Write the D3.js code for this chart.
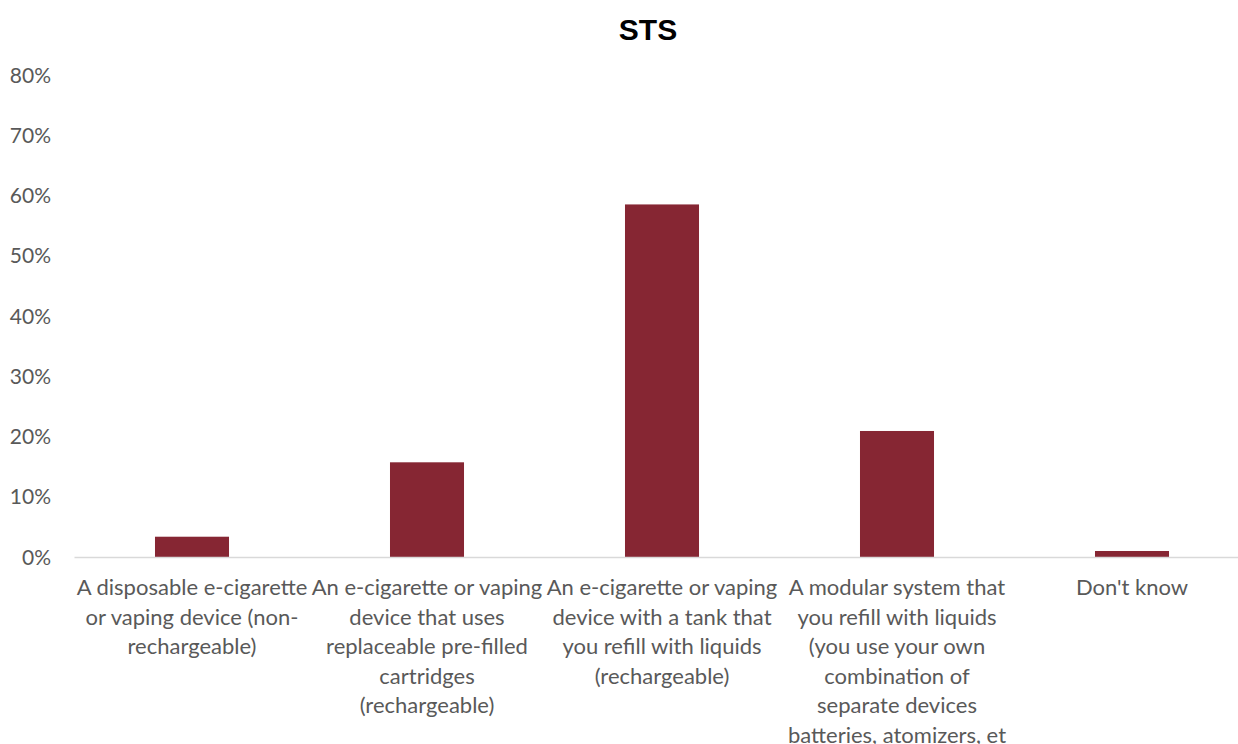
<!DOCTYPE html>
<html>
<head>
<meta charset="utf-8">
<script src="https://cdn.jsdelivr.net/npm/d3@7"></script>
<style>
  body { margin: 0; background: #fff; }
  svg { display: block; }
</style>
</head>
<body>
<div id="chart"></div>
<script>
// data
const categories = ["disposable", "cartridges", "tank", "modular", "dontknow"];
const values = [0.0345, 0.158, 0.586, 0.210, 0.0108];
const labelLines = [
    ["A disposable e-cigarette", "or vaping device (non-", "rechargeable)"],
    ["An e-cigarette or vaping", "device that uses", "replaceable pre-filled", "cartridges", "(rechargeable)"],
    ["An e-cigarette or vaping", "device with a tank that", "you refill with liquids", "(rechargeable)"],
    ["A modular system that", "you refill with liquids", "(you use your own", "combination of", "separate devices", "batteries, atomizers, et"],
    ["Don't know"]
];
const yTicks = [0, 0.1, 0.2, 0.3, 0.4, 0.5, 0.6, 0.7, 0.8];

const W = 1238, H = 744;
const margin = { top: 75.5, left: 74.5, right: -11.5, bottom: 186.5 };
const font = "Lato, 'Open Sans', sans-serif";
const textCol = "#595959";

const svg = d3.select("#chart").append("svg")
    .attr("width", W)
    .attr("height", H);

const x = d3.scaleBand()
    .domain(categories)
    .range([margin.left, W - margin.right])
    .paddingInner(0.685)
    .paddingOuter(0.3425);

const y = d3.scaleLinear()
    .domain([0, 0.8])
    .range([H - margin.bottom, margin.top]);

// title
svg.append("text")
    .attr("x", 648)
    .attr("y", 39.5)
    .attr("text-anchor", "middle")
    .attr("font-family", "Arial, 'Liberation Sans', sans-serif")
    .attr("font-weight", "bold")
    .attr("font-size", "30px")
    .attr("fill", "#000")
    .text("STS");

// y axis labels
const yAxis = d3.axisLeft(y)
    .tickValues(yTicks)
    .tickFormat(d3.format(".0%"))
    .tickSize(0)
    .tickPadding(0);

const yg = svg.append("g")
    .attr("transform", "translate(51,0)")
    .call(yAxis);
yg.select(".domain").remove();
yg.selectAll("text")
    .attr("font-family", font)
    .attr("font-size", "21px")
    .attr("fill", textCol);

// bars
svg.selectAll("rect.bar")
    .data(values)
    .enter()
    .append("rect")
    .attr("class", "bar")
    .attr("x", (d, i) => x(categories[i]))
    .attr("width", x.bandwidth())
    .attr("y", d => y(d))
    .attr("height", d => y(0) - y(d))
    .attr("fill", "#862633");

// baseline
svg.append("line")
    .attr("x1", margin.left)
    .attr("x2", W - margin.right)
    .attr("y1", y(0))
    .attr("y2", y(0))
    .attr("stroke", "#d9d9d9")
    .attr("stroke-width", 1.5);

// category labels
labelLines.forEach((lines, i) => {
    const cx = x(categories[i]) + x.bandwidth() / 2;
    const t = svg.append("text")
        .attr("text-anchor", "middle")
        .attr("font-family", font)
        .attr("font-size", "22px")
        .attr("fill", textCol);
    lines.forEach((ln, j) => {
        t.append("tspan")
            .attr("x", cx)
            .attr("y", 595 + j * 29.6)
            .text(ln);
    });
});
</script>
</body>
</html>
